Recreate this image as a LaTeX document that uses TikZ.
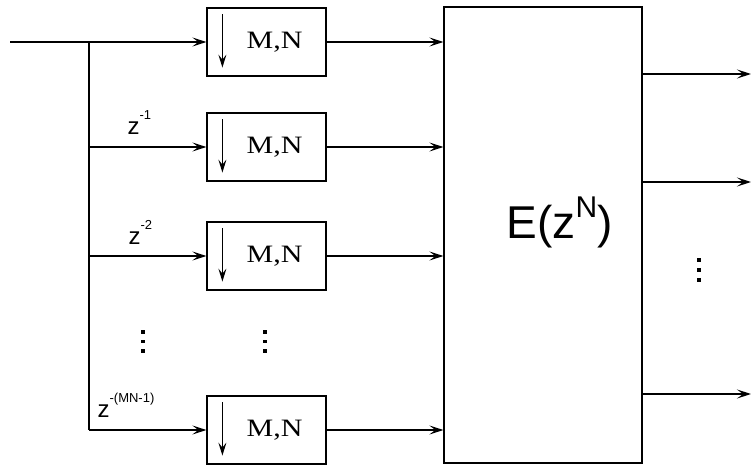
\documentclass[tikz,border=0pt]{standalone}
\usepackage{fontspec}
\setmainfont{Liberation Serif}
\setsansfont{Liberation Sans}
\usetikzlibrary{arrows.meta,calc}
\newcommand{\zpow}[1]{z\raisebox{15pt}{\fontsize{13}{13}\selectfont #1}}
\newcommand{\mn}{\raisebox{-6pt}{\hspace*{16pt}\scalebox{1.2}[1]{M,N}}}
\tikzset{
  arr/.style={-{Stealth[length=14pt,width=9pt,inset=6pt]}},
  dnarr/.style={-{Stealth[length=13pt,width=8pt,inset=5pt]}},
  dec/.style={draw, minimum width=119pt, minimum height=68pt, inner sep=0pt,
              font=\fontsize{25}{25}\selectfont},
  big/.style={draw, minimum width=198pt, minimum height=456pt, inner sep=0pt},
  zlab/.style={anchor=base west, inner sep=0pt, font=\sffamily\fontsize{24}{24}\selectfont},
  dotsq/.style={fill=black, minimum size=3.6pt, inner sep=0pt},
}
\begin{document}
\begin{tikzpicture}[x=1pt,y=-1pt,line width=1.2pt]
\useasboundingbox (0,0) rectangle (751,465);
% decimator boxes
\node[dec] (b1) at (266.5,42)  {\mn};
\node[dec] (b2) at (266.5,147) {\mn};
\node[dec] (b3) at (266.5,256) {\mn};
\node[dec] (b4) at (266.5,430) {\mn};
% down arrows inside boxes
\foreach \b in {b1,b2,b3,b4}{
  \draw[dnarr] ([xshift=16pt,yshift=-7pt]\b.north west) -- ([xshift=16pt,yshift=9pt]\b.south west);
}
% big block
\node[big] (E) at (543,235) {};
\node[anchor=base west, inner sep=0pt, font=\sffamily\fontsize{46}{46}\selectfont] (Et) at (506,238)
  {E(z\raisebox{21pt}{\fontsize{30}{30}\selectfont N})};
% input and branch
\coordinate (in) at (10,42);
\coordinate (br1) at (89,42);
\coordinate (br2) at (89,147);
\coordinate (br3) at (89,256);
\coordinate (br4) at (89,430);
\draw[arr] (in) -- (b1.west);
\draw (br1) -- (br4);
\draw[arr] (br2) -- (b2.west);
\draw[arr] (br3) -- (b3.west);
\draw[arr] (br4) -- (b4.west);
% to big block
\foreach \b in {b1,b2,b3,b4}{
  \draw[arr] (\b.east) -- (\b.east -| E.west);
}
% outputs
\coordinate (o1) at (751,74);
\coordinate (o2) at (751,182);
\coordinate (o3) at (751,394);
\foreach \o in {o1,o2,o3}{
  \draw[arr] (\o -| E.east) -- (\o);
}
% delay labels
\node[zlab] (z1) at (127,135) {\zpow{-1}};
\node[zlab] (z2) at (128,244) {\zpow{-2}};
\node[zlab] (z3) at (97,417) {\zpow{-(MN-1)}};
% dots
\foreach \x in {143,265}{
  \foreach \y in {332,341.5,351}{
    \node[dotsq] at (\x,\y) {};
  }
}
\foreach \y in {260,270,280}{
  \node[dotsq] at (699,\y) {};
}
\end{tikzpicture}
\end{document}
